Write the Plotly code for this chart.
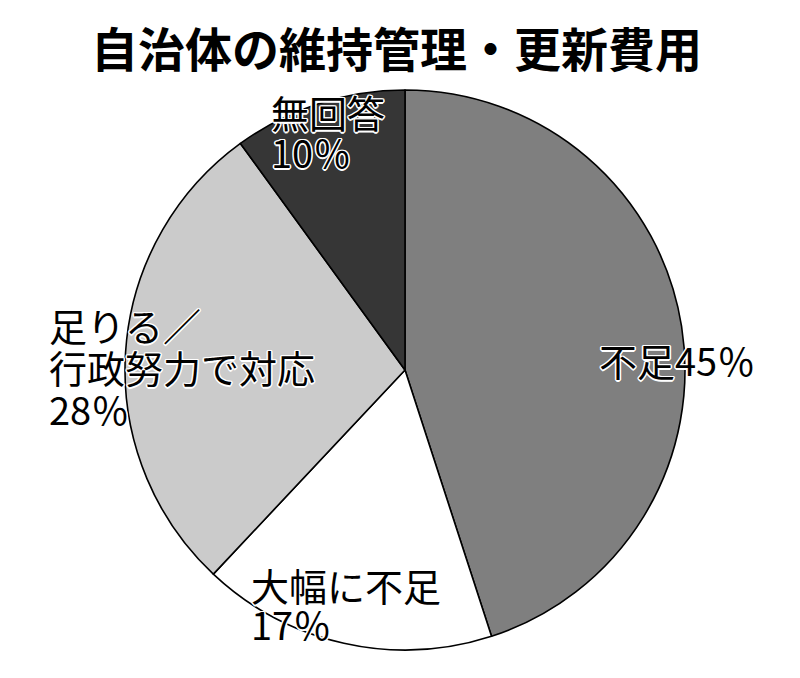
import plotly.graph_objects as go

title_text = "自治体の維持管理・更新費用"
categories = ["不足", "大幅に不足", "足りる／行政努力で対応", "無回答"]
values = [45, 17, 28, 10]
colors = ["#7f7f7f", "#ffffff", "#cbcbcb", "#363636"]

# label lines per category (text only)
label_lines = [
    ["不足45％"],
    ["大幅に不足", "17％"],
    ["足りる／", "行政努力で対応", "28％"],
    ["無回答", "10％"],
]

W, H = 800, 678
OX, OY = 8, 8  # page body offset
# label anchor positions in pixels (left x, first line centre y), line step
label_pos = [(597, 362), (249, 587), (47, 327), (269, 115)]
line_step = [0, 39, 42, 39]

def px_x(x):
    return (x - OX) / W

def px_y(y):
    return 1 - (y - OY) / H

fig = go.Figure()
fig.add_trace(go.Pie(
    labels=categories,
    values=values,
    sort=False,
    direction="clockwise",
    rotation=0,
    marker=dict(colors=colors, line=dict(color="#000000", width=1.6)),
    textinfo="none",
    hoverinfo="skip",
    showlegend=False,
    domain=dict(x=[px_x(125), px_x(685)], y=[px_y(650), px_y(90)]),
))

outline = ("white 1.5px 0px 0px, white -1.5px 0px 0px, white 0px 1.5px 0px, "
           "white 0px -1.5px 0px, white 1px 1px 0px, white -1px -1px 0px, "
           "white 1px -1px 0px, white -1px 1px 0px")
font_family = "Noto Sans CJK JP"
for lines, (px, py), step in zip(label_lines, label_pos, line_step):
    for i, line in enumerate(lines):
        fig.add_annotation(
            x=px_x(px), y=px_y(py + i * step - 3),
            xref="paper", yref="paper",
            xanchor="left", yanchor="middle",
            text=line, showarrow=False,
            font=dict(family=font_family, size=38, color="#000000", shadow=outline),
        )

fig.add_annotation(
    x=px_x(396), y=px_y(46), xref="paper", yref="paper",
    xanchor="center", yanchor="middle",
    text="<b>" + title_text + "</b>", showarrow=False,
    font=dict(family=font_family, size=47, color="#000000"),
)

fig.update_layout(
    width=W, height=H,
    margin=dict(l=0, r=0, t=0, b=0),
    paper_bgcolor="#ffffff",
    plot_bgcolor="#ffffff",
)
fig.write_html("out.html")
